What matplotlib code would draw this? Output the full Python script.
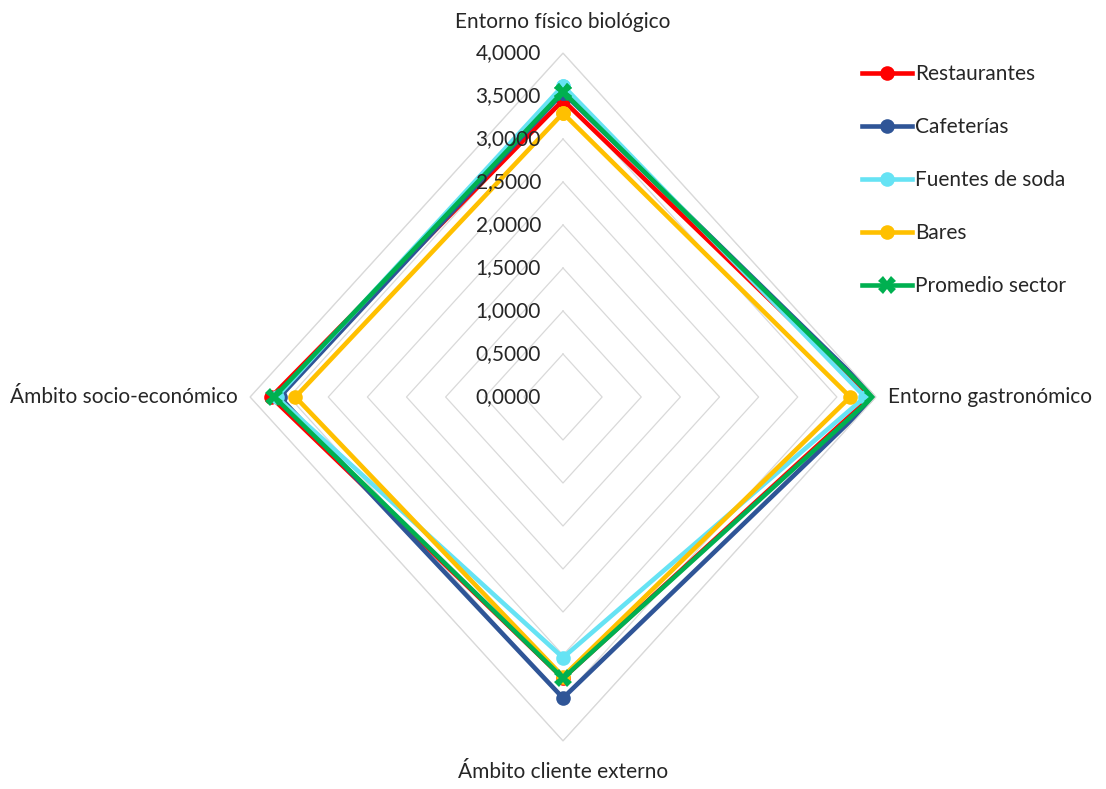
import numpy as np
import matplotlib
matplotlib.use("Agg")
import matplotlib.pyplot as plt
from matplotlib.path import Path
from matplotlib.patches import RegularPolygon
from matplotlib.spines import Spine
from matplotlib.transforms import Affine2D
from matplotlib.projections import register_projection
from matplotlib.projections.polar import PolarAxes

plt.rcParams['font.family'] = ['Lato', 'DejaVu Sans']

# Dimensions (clockwise from the top)
categories = ["Entorno físico biológico", "Entorno gastronómico",
              "Ámbito cliente externo", "Ámbito socio-económico"]

restaurantes = [3.45, 3.93, 3.27, 3.73]
cafeterias = [3.54, 3.99, 3.50, 3.62]
fuentes_soda = [3.62, 3.86, 3.03, 3.66]
bares = [3.30, 3.67, 3.25, 3.42]
promedio = [3.55, 3.96, 3.27, 3.69]

series_names = ["Restaurantes", "Cafeterías", "Fuentes de soda", "Bares", "Promedio sector"]
r_ticks = [0.0, 0.5, 1.0, 1.5, 2.0, 2.5, 3.0, 3.5, 4.0]


def radar_factory(num_vars):
    theta = np.linspace(0, 2 * np.pi, num_vars, endpoint=False)

    class RadarTransform(PolarAxes.PolarTransform):
        def transform_path_non_affine(self, path):
            # gridlines come with many interpolation steps: turn them into polygons
            if path._interpolation_steps > 1:
                path = path.interpolated(num_vars)
            return Path(self.transform(path.vertices), path.codes)

    class RadarAxes(PolarAxes):
        name = 'radar4'
        PolarTransform = RadarTransform

        def __init__(self, *args, **kwargs):
            super().__init__(*args, **kwargs)
            self.set_theta_zero_location('N')

        def plot(self, *args, **kwargs):
            lines = super().plot(*args, **kwargs)
            for line in lines:
                x, y = line.get_data()
                if x[0] != x[-1]:
                    line.set_data(np.append(x, x[0]), np.append(y, y[0]))
            return lines

        def _gen_axes_patch(self):
            return RegularPolygon((0.5, 0.5), num_vars, radius=.5, edgecolor="none")

        def _gen_axes_spines(self):
            spine = Spine(axes=self, spine_type='circle',
                          path=Path.unit_regular_polygon(num_vars))
            spine.set_transform(Affine2D().scale(.5).translate(.5, .5) + self.transAxes)
            return {'polar': spine}

    register_projection(RadarAxes)
    return theta


theta = radar_factory(len(categories))

W, H = 1106, 789
fig = plt.figure(figsize=(W / 100, H / 100), dpi=100)
cx, cy, rx, ry = 563, 397, 313, 344
ax = fig.add_axes([(cx - rx) / W, (H - cy - ry) / H, 2 * rx / W, 2 * ry / H],
                  projection='radar4')
ax.set_aspect('auto')
ax.set_theta_direction(-1)
ax.set_ylim(0, 4)
ax.set_yticks(r_ticks)
ax.set_yticklabels([])
ax.set_xticks(theta)
ax.set_xticklabels([])
ax.xaxis.grid(False)
ax.yaxis.grid(True, color='#d9d9d9', lw=0.9)
ax.tick_params(length=0)
ax.spines['polar'].set_color('#d9d9d9')
ax.spines['polar'].set_linewidth(0.9)

colors = ['#ff0000', '#2f5597', '#66e3f4', '#ffc000', '#00b050']
markers = ['o', 'o', 'o', 'o', 'X']
sizes = [10.5, 10.5, 10.5, 10.5, 12.5]
data = [restaurantes, cafeterias, fuentes_soda, bares, promedio]

FS = 15
TXT = '#262626'

handles = []
for vals, name, c, m, ms in zip(data, series_names, colors, markers, sizes):
    ln = ax.plot(theta, vals, color=c, lw=3.3, marker=m, ms=ms,
                 markeredgewidth=0, label=name, solid_joinstyle='miter')
    handles.append(ln[0])

# radial tick labels along the top axis
for r in r_ticks:
    ax.annotate(f"{r:.4f}".replace('.', ','), xy=(0, r), xytext=(-22, 0),
                textcoords='offset pixels', ha='right', va='center',
                fontsize=FS, color=TXT)

# category labels around the outer polygon
offsets = [((0, 31), 'center', 'center'), ((12, 0), 'left', 'center'),
           ((0, -31), 'center', 'center'), ((-12, 0), 'right', 'center')]
for t, lab, (off, ha, va) in zip(theta, categories, offsets):
    ax.annotate(lab, xy=(t, 4), xytext=off, textcoords='offset pixels',
                ha=ha, va=va, fontsize=FS, color=TXT,
                annotation_clip=False)

fig.legend(handles=handles, loc='upper left',
           bbox_to_anchor=(862 / W, 1 - 64.5 / H), frameon=False,
           fontsize=FS, handlelength=2.4, handletextpad=0.15,
           labelspacing=1.58, borderpad=0, borderaxespad=0,
           labelcolor=TXT)

fig.savefig('out.png', dpi=100, facecolor='white')
